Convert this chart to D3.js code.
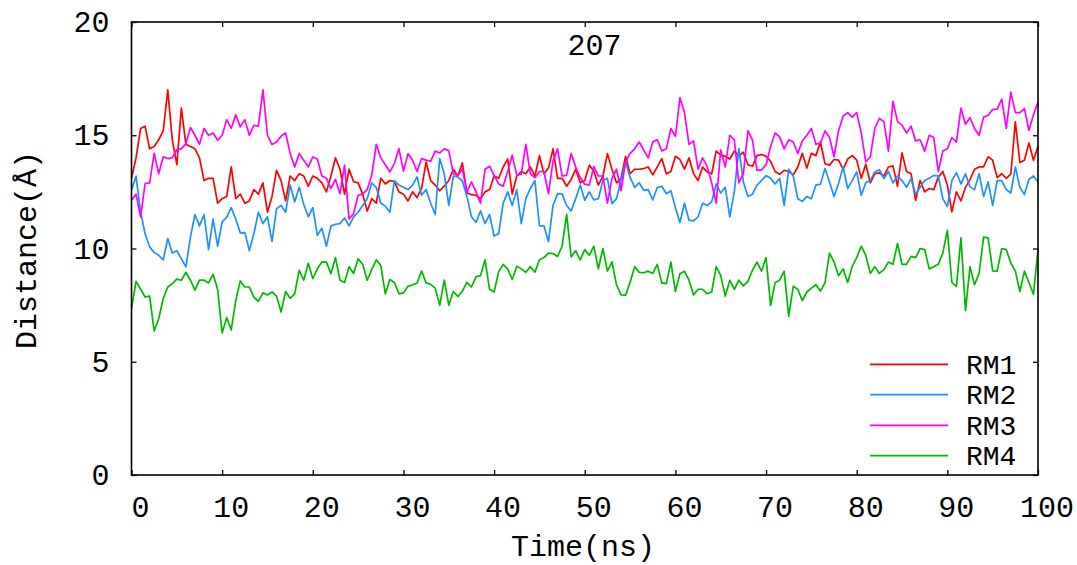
<!DOCTYPE html>
<html>
<head>
<meta charset="utf-8">
<script src="https://cdn.jsdelivr.net/npm/d3@7"></script>
<style>
  html, body { margin: 0; padding: 0; background: #fff; }
  svg { display: block; }
  text { font-family: "Liberation Mono", "DejaVu Sans Mono", monospace; fill: #000; }
</style>
</head>
<body>
<svg id="chart" width="1077" height="565"></svg>
<script>
// ---- data (Time in ns, sampled every 0.5 ns) ----
const time = d3.range(0, 201).map(i => i * 0.5);

const rm1 = [13.1,14.0,15.3,15.4,14.4,14.5,14.8,15.2,17.0,14.8,13.7,16.2,14.6,14.5,14.4,14.0,13.0,13.1,13.1,12.0,12.2,12.3,13.6,12.2,12.4,12.0,12.1,12.6,12.4,12.9,11.6,12.3,13.45,13.0,12.1,13.2,13.0,13.3,13.2,12.75,13.2,13.1,12.9,12.5,13.2,14.0,13.5,12.4,13.5,12.95,12.9,12.4,11.65,
 12.2,12.0,13.1,12.85,13.0,12.95,12.5,12.4,12.1,12.5,12.25,12.65,13.82,13.0,12.8,12.55,12.75,13.0,13.5,13.2,13.78,12.45,12.38,12.35,12.2,12.5,12.6,13.2,13.1,13.6,13.95,12.4,13.2,13.4,13.3,13.6,13.2,14.1,13.3,13.55,14.4,13.1,13.1,12.75,13.05,13.5,12.9,13.0,13.68,13.42,12.8,
 13.19,14.19,13.5,12.9,13.09,14.07,13.3,13.5,13.5,13.53,13.6,13.25,13.6,13.97,13.3,13.4,14.07,13.93,13.5,14.0,13.3,13.0,13.6,13.38,13.3,14.3,14.12,14.07,13.95,14.3,14.1,14.25,13.7,13.63,14.1,14.15,14.07,13.85,13.4,13.28,13.45,13.4,13.25,13.6,14.2,13.55,14.2,14.1,14.7,13.74,13.68,
 13.93,13.9,13.5,13.95,14.1,13.9,13.1,13.72,12.9,13.3,13.34,13.2,13.6,13.65,12.75,14.22,13.4,13.3,12.13,13.0,12.5,12.65,12.6,13.15,13.4,12.8,11.62,12.5,12.1,12.7,13.04,13.5,13.6,13.6,14.05,13.9,13.13,13.3,13.1,13.28,15.59,13.8,13.9,14.66,13.9,14.51];

const rm2 = [12.57,13.2,11.6,10.65,10.07,9.83,9.7,9.5,10.44,9.8,9.9,9.55,9.19,10.5,11.5,11.0,11.5,9.95,11.3,10.1,11.18,11.37,11.8,11.3,10.69,10.7,9.9,10.66,11.6,11.1,11.4,10.3,11.76,11.9,11.6,12.8,12.06,12.7,11.95,11.4,11.8,10.58,10.9,10.1,11.0,11.07,11.1,11.35,11.0,11.4,11.6,11.9,12.2,
 12.9,12.7,12.0,11.87,11.6,13.0,12.8,12.7,12.6,12.8,13.16,12.35,12.6,12.0,11.5,13.97,13.3,11.9,13.2,13.16,12.98,12.3,11.4,11.15,11.66,11.1,11.5,10.55,10.65,12.0,12.5,11.9,12.6,11.1,12.2,12.65,13.0,11.0,11.0,10.3,11.9,12.42,12.4,11.9,11.66,12.2,12.8,12.13,12.5,12.15,12.2,
 13.0,13.1,11.98,12.2,13.0,13.82,13.15,12.7,12.9,12.57,12.6,12.14,12.69,12.75,12.42,12.55,11.8,11.15,12.0,11.25,11.22,11.4,12.0,11.9,12.06,12.85,12.45,12.7,11.4,12.5,14.41,12.94,12.3,12.4,12.8,13.0,13.22,13.1,12.85,13.1,11.9,13.5,13.2,12.2,12.08,12.3,12.2,12.8,12.84,13.53,12.94,
 12.3,12.87,13.6,12.65,13.0,13.38,12.35,12.9,13.0,13.38,13.48,13.09,13.4,12.9,13.2,13.0,12.7,13.1,12.4,12.7,13.0,13.1,13.23,13.2,12.2,11.85,13.0,13.35,12.85,13.3,12.72,12.6,13.3,12.3,12.94,11.9,13.0,13.0,12.6,12.45,13.6,12.7,12.38,13.05,13.2,12.94];

const rm3 = [12.13,12.4,11.4,12.87,12.9,14.2,13.3,14.05,13.97,14.0,14.37,14.4,14.63,15.34,15.0,14.6,15.3,15.0,15.1,14.78,15.0,15.69,15.3,15.9,15.37,15.69,15.0,15.44,15.4,17.0,15.0,14.59,14.7,14.96,15.1,14.2,13.6,14.2,13.9,13.6,14.04,13.95,13.2,13.1,12.65,13.05,12.42,13.68,11.3,11.54,12.35,12.4,12.6,
 13.23,14.6,14.0,13.7,13.38,13.75,14.41,13.42,14.19,13.9,13.4,13.97,13.9,13.85,14.3,14.22,14.4,14.32,13.3,13.23,13.5,12.5,12.94,12.5,12.0,13.5,13.63,13.23,12.85,12.75,13.4,14.12,13.23,13.28,14.6,13.3,13.13,13.4,13.4,12.42,13.87,14.4,13.2,13.23,14.19,13.6,13.13,12.84,12.8,13.62,13.2,
 13.2,12.0,13.1,13.5,12.55,13.8,14.2,14.4,14.7,14.35,14.0,14.7,14.8,14.31,14.4,15.3,14.95,16.66,16.0,14.6,14.75,13.5,14.0,13.63,12.9,12.0,14.35,13.6,15.0,14.8,12.9,13.3,15.2,14.78,13.45,13.47,13.7,14.5,15.1,14.93,14.4,14.8,14.7,14.2,14.75,15.0,15.3,14.6,14.66,15.19,14.9,
 14.05,15.2,15.84,16.0,15.8,16.0,15.1,13.82,14.05,15.3,15.74,15.6,14.3,16.5,15.6,15.45,15.1,15.4,14.75,14.8,14.3,15.0,14.9,13.4,14.3,14.4,14.9,14.7,16.2,15.49,15.78,15.3,15.0,15.8,15.88,16.13,16.15,16.6,15.3,16.91,16.0,16.0,16.18,15.22,15.9,16.47];

const rm4 = [7.35,8.55,8.2,7.86,7.9,6.36,6.9,7.8,8.3,8.45,8.65,8.6,8.95,8.6,8.16,8.6,8.6,8.48,8.86,8.19,6.27,6.95,6.4,7.7,8.57,8.3,8.3,7.85,7.67,8.04,7.95,8.08,7.9,7.2,8.1,7.8,8.0,9.04,8.6,9.35,8.67,9.1,9.41,9.4,8.89,9.6,8.6,8.5,9.19,8.9,9.55,9.3,8.6,
 9.07,9.5,9.25,8.0,8.63,8.5,8.0,8.04,8.33,8.4,8.48,9.01,8.48,8.42,8.25,7.49,8.6,7.5,8.1,7.88,8.12,8.5,8.3,8.75,8.8,9.5,8.2,8.08,8.97,9.3,9.1,8.63,9.22,9.1,8.95,9.2,8.95,9.5,9.6,9.8,9.78,9.65,10.1,11.51,9.63,9.9,9.5,9.95,9.7,10.1,9.1,
 10.0,9.0,9.41,8.4,7.95,7.94,8.5,9.2,8.95,8.93,9.0,8.9,9.3,8.48,8.45,9.4,8.1,8.89,9.0,8.6,7.95,8.2,8.2,8.0,8.08,9.2,8.8,7.9,8.6,8.2,8.6,8.35,8.55,9.04,9.4,9.0,9.6,7.49,8.5,8.6,9.0,7.0,8.33,8.2,7.7,8.08,8.25,8.4,8.12,8.48,9.8,
 9.4,8.8,9.1,8.5,9.2,9.6,10.1,9.7,8.9,9.2,8.9,9.07,9.4,9.3,10.22,9.3,9.3,9.65,9.6,10.0,9.95,9.1,9.19,9.3,9.8,10.8,8.5,8.33,10.47,7.27,9.2,8.4,8.9,10.5,10.47,9.01,9.0,10.0,9.95,9.36,9.0,8.1,9.0,8.5,7.98,9.95];

const seriesNames = ["RM1", "RM2", "RM3", "RM4"];
const seriesColors = ["#ff0000", "#1e8fff", "#ff00ff", "#00b800"];
const seriesValues = [rm1, rm2, rm3, rm4];

const xTicks = [0, 10, 20, 30, 40, 50, 60, 70, 80, 90, 100];
const yTicks = [0, 5, 10, 15, 20];
const title = "207";
const xTitle = "Time(ns)";
const yTitle = "Distance(Å)";

// ---- layout ----
const svg = d3.select("#chart");
const L = 131.5, R = 1038, T = 22, B = 475;
const FS = 30;

const x = d3.scaleLinear().domain([0, 100]).range([L, R]);
const y = d3.scaleLinear().domain([0, 20]).range([B, T]);

svg.append("rect").attr("width", 1077).attr("height", 565).attr("fill", "#fff");

// lines
const line = d3.line().x((d, i) => x(time[i])).y(d => y(d));
seriesValues.forEach((vals, k) => {
  svg.append("path")
    .datum(vals)
    .attr("fill", "none")
    .attr("stroke", seriesColors[k])
    .attr("stroke-width", 1.7)
    .attr("stroke-linejoin", "round")
    .attr("d", line);
});

// axes
function styleAxis(g) {
  g.select(".domain").remove();
  g.selectAll(".tick line").attr("stroke", "#000").attr("stroke-width", 1.3);
  g.selectAll(".tick text").style("font-size", FS + "px").style("font-family", '"Liberation Mono", monospace').attr("fill", "#000");
}
svg.append("g").attr("transform", `translate(0,${B})`)
  .call(d3.axisBottom(x).tickValues(xTicks).tickSize(-5).tickPadding(21).tickFormat(d3.format("d")))
  .call(styleAxis)
  .call(g => g.selectAll(".tick text").attr("dx", 8.5));
svg.append("g").attr("transform", `translate(0,${T})`)
  .call(d3.axisTop(x).tickValues(xTicks).tickSize(-5).tickFormat(""))
  .call(styleAxis);
svg.append("g").attr("transform", `translate(${L},0)`)
  .call(d3.axisLeft(y).tickValues(yTicks).tickSize(-5).tickPadding(22).tickFormat(d3.format("d")))
  .call(styleAxis);
svg.append("g").attr("transform", `translate(${R},0)`)
  .call(d3.axisRight(y).tickValues(yTicks).tickSize(-5).tickFormat(""))
  .call(styleAxis);

// border
svg.append("rect").attr("x", L).attr("y", T).attr("width", R - L).attr("height", B - T)
  .attr("fill", "none").attr("stroke", "#000").attr("stroke-width", 1.6);

// titles
svg.append("text").attr("x", 594.5).attr("y", 55).attr("text-anchor", "middle")
  .style("font-size", FS + "px").text(title);
svg.append("text").attr("x", 583).attr("y", 556).attr("text-anchor", "middle")
  .style("font-size", FS + "px").text(xTitle);
svg.append("text").attr("transform", "translate(36,250) rotate(-90)").attr("text-anchor", "middle")
  .style("font-size", FS + "px").text(yTitle);

// legend
const legendY = [364.3, 394.7, 425.3, 455.7];
seriesNames.forEach((name, k) => {
  svg.append("line").attr("x1", 870).attr("x2", 948).attr("y1", legendY[k]).attr("y2", legendY[k])
    .attr("stroke", seriesColors[k]).attr("stroke-width", 1.7);
  svg.append("text").attr("x", 966).attr("y", legendY[k]).attr("dy", "0.34em")
    .style("font-size", (FS - 2) + "px").text(name);
});
</script>
</body>
</html>
